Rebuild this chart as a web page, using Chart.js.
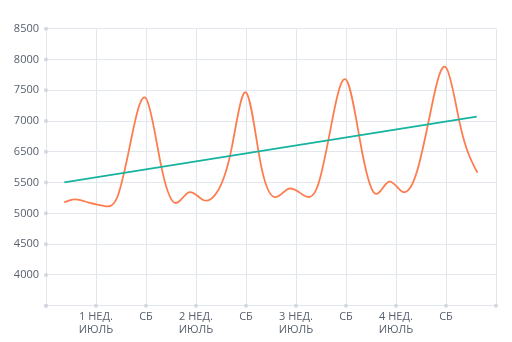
<!DOCTYPE html>
<html lang="ru">
<head>
<meta charset="utf-8">
<title>Продажи за июль</title>
<script src="https://cdn.jsdelivr.net/npm/chart.js@4.4.1/dist/chart.umd.min.js"></script>
<style>
  html, body { margin: 0; padding: 0; background: #fff; }
  #wrap { width: 512px; height: 342px; }
</style>
</head>
<body>
<div id="wrap"><canvas id="salesChart" width="512" height="342"></canvas></div>
<script>
// day of month for each reading (first and last readings fall part-way through a day)
const days = [1.28, 2, 3, 4, 5, 6, 7, 8, 9, 10, 11, 12, 13, 14, 15,
              16, 17, 18, 19, 20, 21, 22, 23, 24, 25, 26, 27, 28, 29, 30.2];
const dailyValues = [5366, 5420, 5360, 5305, 5467, 6550, 7240, 6100, 5359, 5547,
                     5408, 5560, 6350, 7350, 6100, 5460, 5612, 5498, 5648, 6800,
                     7580, 6450, 5529, 5738, 5552, 5950, 7100, 7800, 6750, 5901];

// straight trend line across the month
const trendDays = [1.28, 30.15];
const trendValues = [5727, 6911];

// x ticks every half week, y ticks in nine equal steps
const xTickLabels = ['', ['1 НЕД.', 'ИЮЛЬ'], 'СБ', ['2 НЕД.', 'ИЮЛЬ'], 'СБ',
                     ['3 НЕД.', 'ИЮЛЬ'], 'СБ', ['4 НЕД.', 'ИЮЛЬ'], 'СБ', ''];
const yTickLabels = ['', '4000', '4500', '5000', '5500', '6500', '7000', '7500', '8000', '8500'];

const gridColor = '#e2e6ed';
const dotColor = '#d2d7e0';
const labelColor = '#58606d';

// small round markers where each grid line meets the axes
const axisDots = {
    id: 'axisDots',
    afterDraw(chart) {
        const { ctx, chartArea, scales } = chart;
        ctx.save();
        ctx.fillStyle = dotColor;
        scales.y.ticks.forEach((tick, i) => {
            ctx.beginPath();
            ctx.arc(chartArea.left, scales.y.getPixelForTick(i), 2, 0, Math.PI * 2);
            ctx.fill();
        });
        scales.x.ticks.forEach((tick, i) => {
            ctx.beginPath();
            ctx.arc(scales.x.getPixelForTick(i), chartArea.bottom, 2, 0, Math.PI * 2);
            ctx.fill();
        });
        ctx.restore();
    }
};

// replace the default bezier handles of the sales line with a natural cubic spline
const naturalSpline = {
    id: 'naturalSpline',
    beforeDatasetDraw(chart, args) {
        if (args.index !== 1) return;
        const meta = args.meta;
        meta.dataset.updateControlPoints(chart.chartArea, meta.iScale.axis);
        const pts = meta.data;
        const n = pts.length;
        const h = [], d = [];
        for (let i = 0; i < n - 1; i++) {
            h.push(pts[i + 1].x - pts[i].x);
            d.push((pts[i + 1].y - pts[i].y) / h[i]);
        }
        // second derivatives, zero at both ends (tridiagonal solve)
        const m = new Array(n).fill(0);
        const a = [], b = [], c = [], r = [];
        for (let i = 1; i < n - 1; i++) {
            a.push(h[i - 1]);
            b.push(2 * (h[i - 1] + h[i]));
            c.push(h[i]);
            r.push(6 * (d[i] - d[i - 1]));
        }
        const k = r.length;
        for (let j = 1; j < k; j++) {
            const w = a[j] / b[j - 1];
            b[j] -= w * c[j - 1];
            r[j] -= w * r[j - 1];
        }
        m[k] = r[k - 1] / b[k - 1];
        for (let j = k - 2; j >= 0; j--) {
            m[j + 1] = (r[j] - c[j] * m[j + 2]) / b[j];
        }
        for (let i = 0; i < n; i++) {
            const s = i < n - 1
                ? d[i] - h[i] * (2 * m[i] + m[i + 1]) / 6
                : d[n - 2] + h[n - 2] * (m[n - 2] + 2 * m[n - 1]) / 6;
            const p = pts[i];
            if (i > 0) {
                p.cp1x = p.x - h[i - 1] / 3;
                p.cp1y = p.y - s * h[i - 1] / 3;
            }
            if (i < n - 1) {
                p.cp2x = p.x + h[i] / 3;
                p.cp2y = p.y + s * h[i] / 3;
            }
        }
    }
};

const ctx = document.getElementById('salesChart').getContext('2d');
new Chart(ctx, {
    type: 'line',
    data: {
        datasets: [{
            label: 'Тренд',
            data: trendDays.map((d, i) => ({ x: d, y: trendValues[i] })),
            borderColor: '#16b39f',
            borderWidth: 1.8,
            pointRadius: 0,
            fill: false
        }, {
            label: 'Продажи',
            data: days.map((d, i) => ({ x: d, y: dailyValues[i] })),
            borderColor: '#fd7d4f',
            borderWidth: 1.8,
            pointRadius: 0,
            fill: false,
            tension: 0.4
        }]
    },
    options: {
        responsive: false,
        animation: false,
        layout: {
            padding: { top: 28.7, right: 16, bottom: 0, left: 0 }
        },
        plugins: {
            legend: { display: false },
            tooltip: { enabled: false }
        },
        scales: {
            x: {
                type: 'linear',
                min: 0,
                max: 31.5,
                afterFit: scale => { scale.height = 36.3; },
                border: { display: false },
                grid: { color: gridColor, drawTicks: false },
                ticks: {
                    stepSize: 3.5,
                    autoSkip: false,
                    maxRotation: 0,
                    padding: 5,
                    color: labelColor,
                    font: { family: 'Open Sans', size: 11, lineHeight: 1.15 },
                    callback: (value, index) => xTickLabels[index]
                }
            },
            y: {
                min: 3500,
                max: 8500,
                afterFit: scale => { scale.width = 46; },
                border: { display: false },
                grid: { color: gridColor, drawTicks: false },
                ticks: {
                    stepSize: 5000 / 9,
                    padding: 7,
                    color: labelColor,
                    font: { family: 'Open Sans', size: 11 },
                    callback: (value, index) => yTickLabels[index]
                }
            }
        }
    },
    plugins: [axisDots, naturalSpline]
});
</script>
</body>
</html>
